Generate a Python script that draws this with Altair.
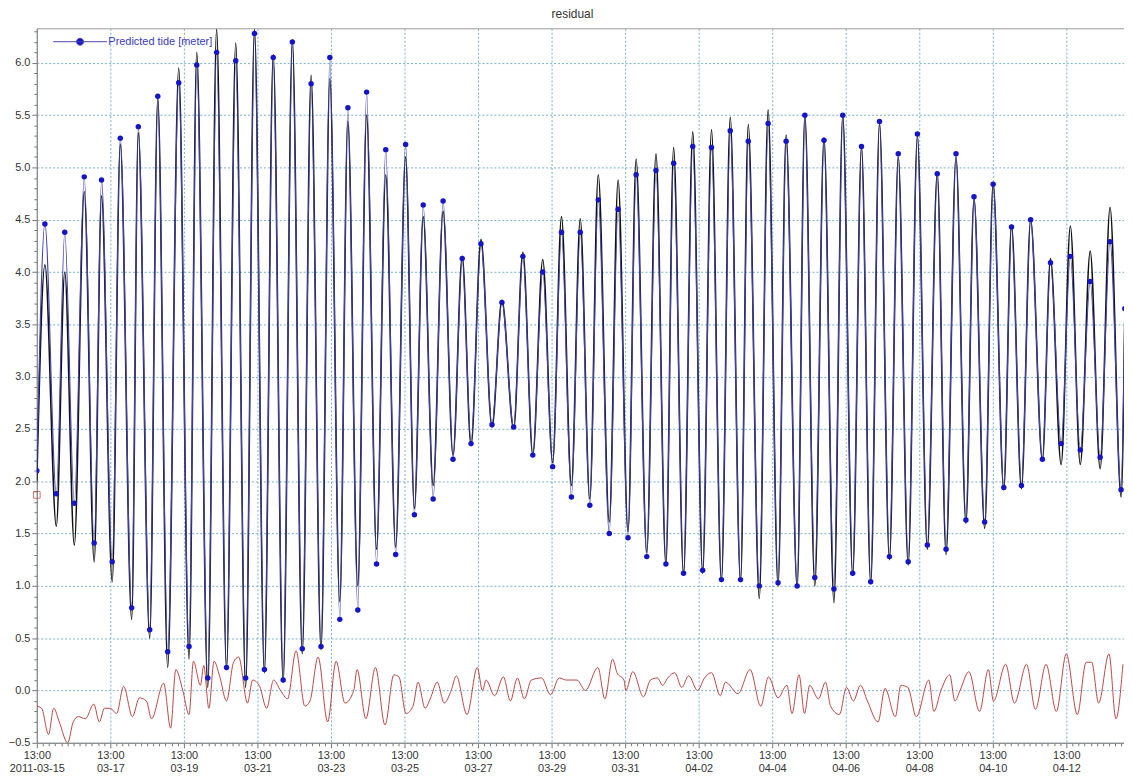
import altair as alt
import pandas as pd

BASE = pd.Timestamp("2011-03-15 13:00")

# Tide extremes: days after 2011-03-15 13:00
tide_day = [0.00, 0.22, 0.53, 0.76, 1.02, 1.29, 1.56, 1.76, 2.05, 2.27, 2.58, 2.76, 3.07, 3.29, 3.56,
            3.86, 4.14, 4.35, 4.65, 4.89, 5.16, 5.41, 5.68, 5.92, 6.19, 6.43, 6.70, 6.95, 7.22, 7.46,
            7.73, 7.97, 8.24, 8.46, 8.73, 8.97, 9.24, 9.49, 9.76, 10.03, 10.27, 10.51, 10.78, 11.05,
            11.32, 11.57, 11.81, 12.08, 12.38, 12.65, 12.97, 13.22, 13.49, 13.76, 14.03, 14.27, 14.54,
            14.78, 15.04, 15.27, 15.57, 15.81, 16.08, 16.30, 16.59, 16.84, 17.11, 17.32, 17.59, 17.84,
            18.11, 18.35, 18.62, 18.86, 19.14, 19.35, 19.65, 19.89, 20.16, 20.38, 20.68, 20.89, 21.16,
            21.41, 21.68, 21.92, 22.19, 22.43, 22.68, 22.92, 23.19, 23.43, 23.70, 23.95, 24.22, 24.49,
            24.73, 25.00, 25.27, 25.49, 25.78, 26.01, 26.30, 26.51, 26.78, 27.03, 27.35, 27.57, 27.86,
            28.11, 28.38, 28.65, 28.92, 29.19, 29.49, 29.59]

predicted = [2.10,
             4.46, 1.88, 4.38, 1.79, 4.91, 1.41, 4.88, 1.23, 5.28, 0.79, 5.39, 0.58, 5.68, 0.37,
             5.81, 0.42, 5.98, 0.12, 6.10, 0.22, 6.02, 0.12, 6.28, 0.20, 6.05, 0.10, 6.20, 0.40,
             5.80, 0.42, 6.05, 0.68, 5.57, 0.77, 5.72, 1.21, 5.17, 1.30, 5.22, 1.68, 4.64, 1.83,
             4.68, 2.21, 4.13, 2.36, 4.27, 2.54, 3.71, 2.52, 4.15, 2.25, 4.00, 2.14, 4.38, 1.85,
             4.38, 1.77, 4.69, 1.50, 4.60, 1.46, 4.93, 1.28, 4.97, 1.21, 5.04, 1.12, 5.20, 1.15,
             5.19, 1.06, 5.35, 1.06, 5.25, 1.00, 5.42, 1.03, 5.25, 1.00, 5.50, 1.08, 5.26, 0.97,
             5.50, 1.12, 5.20, 1.04, 5.44, 1.28, 5.13, 1.23, 5.32, 1.39, 4.94, 1.35, 5.13, 1.63,
             4.72, 1.61, 4.84, 1.94, 4.43, 1.96, 4.50, 2.21, 4.09, 2.36, 4.15, 2.30, 3.91, 2.23,
             4.29, 1.92,
             3.65]

observed = [2.00,
            4.07, 1.57, 4.00, 1.39, 4.77, 1.23, 4.73, 1.04, 5.22, 0.68, 5.33, 0.50, 5.66, 0.22,
            5.95, 0.30, 6.10, 0.03, 6.32, 0.20, 6.19, 0.03, 6.32, 0.17, 6.08, 0.08, 6.22, 0.35,
            5.88, 0.39, 5.85, 0.85, 5.44, 1.00, 5.50, 1.35, 4.93, 1.37, 5.10, 1.74, 4.53, 1.96,
            4.58, 2.25, 4.15, 2.34, 4.31, 2.52, 3.73, 2.50, 4.19, 2.25, 4.12, 2.18, 4.53, 1.96,
            4.51, 1.83, 4.93, 1.61, 4.88, 1.52, 5.08, 1.32, 5.13, 1.20, 5.19, 1.10, 5.34, 1.12,
            5.36, 1.04, 5.48, 1.04, 5.41, 0.88, 5.55, 1.00, 5.31, 0.98, 5.50, 1.00, 5.28, 0.84,
            5.50, 1.10, 5.20, 1.02, 5.42, 1.25, 5.10, 1.20, 5.30, 1.35, 4.95, 1.30, 5.10, 1.60,
            4.70, 1.55, 4.85, 1.92, 4.45, 1.93, 4.50, 2.20, 4.13, 2.16, 4.44, 2.16, 4.20, 2.12,
            4.62, 1.85,
            3.55]

# Residual
resid_day = [0.00, 0.13, 0.32, 0.46, 0.61, 0.84, 0.99, 1.13, 1.32, 1.55, 1.70, 1.84, 2.00, 2.17,
             2.36, 2.60, 2.79, 2.98, 3.12, 3.45, 3.64, 3.78, 3.97, 4.14, 4.26, 4.45, 4.54, 4.68,
             4.82, 4.97, 5.16, 5.35, 5.49, 5.73, 5.87, 6.06, 6.25, 6.44, 6.63, 6.82, 7.05, 7.29,
             7.43, 7.65, 7.91, 8.14, 8.38, 8.62, 8.71, 8.95, 9.21, 9.47, 9.71, 9.85, 10.04, 10.23,
             10.37, 10.56, 10.70, 10.89, 11.08, 11.27, 11.41, 11.70, 11.98, 12.12, 12.22, 12.45,
             12.69, 12.88, 13.07, 13.26, 13.45, 13.73, 13.97, 14.21, 14.40,
             14.69, 14.92, 15.26, 15.45, 15.66, 15.78, 15.97, 16.02, 16.21, 16.50, 16.69, 16.88,
             17.02, 17.16, 17.35, 17.54, 17.73, 17.97, 18.16, 18.35, 18.59, 18.73, 19.07, 19.40,
             19.69, 19.90, 20.16, 20.40, 20.54, 20.73, 20.88, 21.02, 21.26, 21.45, 21.59, 21.83,
             22.02, 22.21, 22.40, 22.59, 22.88, 23.07, 23.35, 23.50, 23.69, 23.92, 24.26, 24.40,
             24.59, 24.83, 24.97, 25.11, 25.35, 25.64, 25.88, 26.02, 26.35, 26.59, 26.92, 27.16,
             27.45, 27.73, 28.00, 28.30, 28.54, 28.69, 28.88, 29.16, 29.35, 29.54]

residual = [-0.15, -0.17, -0.42, -0.17, -0.30, -0.50, -0.30, -0.25, -0.27, -0.13, -0.30, -0.17, -0.17, -0.22,
            0.04, -0.25, -0.07, -0.10, -0.27, 0.07, -0.36, 0.20, 0.00, -0.23, 0.28, 0.05, 0.24, -0.17,
            0.28, 0.14, -0.10, 0.27, 0.32, -0.12, 0.10, 0.04, -0.17, 0.10, 0.00, -0.08, 0.38, -0.15,
            -0.10, 0.32, -0.30, 0.28, -0.12, 0.00, 0.20, -0.27, 0.22, -0.33, 0.15, 0.13, -0.22, -0.15,
            0.08, -0.17, -0.08, 0.08, -0.12, 0.00, 0.14, -0.23, 0.22, 0.00, 0.10, -0.05,
            0.13, -0.10, 0.12, -0.08, 0.10, 0.12, -0.04, 0.12, 0.10,
            0.10, 0.00, 0.22, -0.08, 0.30, 0.17, 0.10, 0.00, 0.18, -0.06, 0.10, 0.12,
            0.05, 0.12, 0.17, 0.03, 0.14, 0.00, 0.12, 0.17, -0.05, 0.08, -0.03, 0.20,
            -0.15, 0.13, -0.07, 0.05, -0.22, 0.15, -0.22, 0.05, -0.08, 0.08, -0.15, -0.23,
            0.03, -0.10, 0.05, -0.10, -0.30, 0.02, -0.25, 0.05, 0.03, -0.25, 0.10, -0.20,
            0.00, 0.15, -0.10, 0.00, 0.18, -0.20, 0.20, -0.10, 0.25, -0.12, 0.25, -0.18,
            0.25, -0.20, 0.35, -0.23, 0.27, 0.27, -0.12, 0.35, -0.27, 0.25]

marker_day = [0.0]
marker_val = [1.87]

title_text = ["residual"]

assert len(tide_day) == len(predicted) == len(observed)
assert len(resid_day) == len(residual)

END_DAY = 29.57
PLOT_W = 1094
PLOT_H = 719


def to_time(days):
    return [BASE + pd.Timedelta(days=d) for d in days]


def dt(ts):
    return alt.DateTime(year=ts.year, month=ts.month, date=ts.day, hours=ts.hour, minutes=ts.minute)


tide = pd.DataFrame({"time": to_time(tide_day), "predicted": predicted, "observed": observed,
                     "series": "Predicted tide [meter]"})
res = pd.DataFrame({"time": to_time(resid_day), "residual": residual})
mark_df = pd.DataFrame({"time": to_time(marker_day), "v": marker_val})
title_df = pd.DataFrame({"label": title_text})

end_ts = BASE + pd.Timedelta(days=END_DAY)
x_ticks = [dt(t) for t in pd.date_range(BASE, end_ts, freq="4h")]
y_ticks = [round(-0.5 + 0.1 * i, 1) for i in range(69)]

x_major = "(hours(datum.value) == 13 && round((datum.value - datetime(2011,2,15,13,0)) / 86400000) % 2 == 0)"
y_major = "(abs(datum.value * 2 - round(datum.value * 2)) < 0.001)"

xscale = alt.Scale(domain=[dt(BASE), dt(end_ts)])
yscale = alt.Scale(domain=[-0.5, 6.33], nice=False, zero=False)

xaxis = alt.Axis(
    values=x_ticks, tickCount=1000, title=None, labelOverlap=False, labelBound=False,
    labelExpr=x_major + " ? [timeFormat(datum.value, '%H:%M'), (timeFormat(datum.value, '%m-%d') == '03-15' ? '2011-03-15' : timeFormat(datum.value, '%m-%d'))] : ''",
    tickSize={"condition": {"test": x_major, "value": 5}, "value": 3},
    gridOpacity={"condition": {"test": x_major, "value": 1}, "value": 0},
    labelAlign="center", labelLineHeight=13, labelPadding=2,
)
yaxis = alt.Axis(
    values=y_ticks, tickCount=1000, title=None, labelOverlap=False,
    labelExpr=y_major + " ? format(datum.value, '.1f') : ''",
    tickSize={"condition": {"test": y_major, "value": 5}, "value": 3},
    gridOpacity={"condition": {"test": y_major, "value": 1}, "value": 0},
    labelPadding=2,
)

legend_symbol = "M-1,0L1,0M-0.13,0A0.13,0.13,0,1,1,0.13,0A0.13,0.13,0,1,1,-0.13,0Z"

res_line = alt.Chart(res).mark_line(color="#b84848", strokeWidth=1, interpolate="monotone", clip=True).encode(
    x=alt.X("time:T", scale=xscale, axis=xaxis),
    y=alt.Y("residual:Q", scale=yscale, axis=yaxis),
)

obs_line = alt.Chart(tide).mark_line(color="#111111", strokeWidth=1.6, interpolate="monotone", clip=True).encode(
    x="time:T", y="observed:Q"
)

pred_line = alt.Chart(tide).mark_line(color="#4040b4", strokeWidth=1.1, interpolate="monotone", clip=True).encode(
    x="time:T", y="predicted:Q"
)

pred_pts = alt.Chart(tide).mark_point(filled=True, size=30, opacity=1, clip=True).encode(
    x="time:T", y="predicted:Q",
    color=alt.Color("series:N",
                    scale=alt.Scale(domain=["Predicted tide [meter]"], range=["#1414c8"]),
                    legend=alt.Legend(title=None, orient="none", legendX=16, legendY=-14,
                                      symbolType=legend_symbol, symbolSize=2916,
                                      symbolStrokeColor="#4646b4", symbolFillColor="#1414c8",
                                      symbolStrokeWidth=1, symbolOpacity=1,
                                      labelColor="#3a3ac0", labelFont="Liberation Sans",
                                      labelFontSize=11, labelOffset=1, padding=0)),
)

marker = alt.Chart(mark_df).mark_point(shape="square", color="#c04040", size=45, filled=False,
                                       strokeWidth=1).encode(x="time:T", y="v:Q")

title_mark = alt.Chart(title_df).mark_text(
    fontSize=12, font="Liberation Sans", color="#333333", baseline="bottom", align="center"
).encode(text="label:N", x=alt.value(PLOT_W / 2 - 8), y=alt.value(-7))

chart = alt.layer(res_line, obs_line, pred_line, pred_pts, marker, title_mark).properties(
    width=PLOT_W, height=PLOT_H,
    autosize=alt.AutoSizeParams(type="none"),
    padding={"left": 29, "top": 18, "right": 0, "bottom": 36},
).configure_axis(
    domainColor="#888888", tickColor="#777777", labelColor="#333333", labelFontSize=11,
    labelFont="Liberation Sans", gridColor="#79b0c8", gridDash=[2, 2], gridWidth=1,
).configure_view(stroke="#999999", strokeWidth=1)

chart.save("out.html", embed_options={"renderer": "svg", "actions": False})
